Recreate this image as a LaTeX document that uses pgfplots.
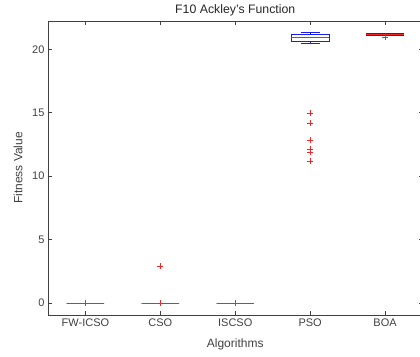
\documentclass[border=0pt]{standalone}
\usepackage{pgfplots}
\pgfplotsset{compat=1.18}
\usepgfplotslibrary{statistics}
\usepackage{fontspec}
\setmainfont{Liberation Sans}

\definecolor{axgray}{rgb}{0.25,0.25,0.25}
\definecolor{mblue}{rgb}{0.1,0.1,0.95}
\definecolor{mred}{rgb}{0.95,0.15,0.15}

\begin{document}
\begin{tikzpicture}
\begin{axis}[
  name=ax, at={(0,0)}, anchor=south west,
  scale only axis, width=374.5pt, height=294pt,
  xmin=0.5, xmax=5.5, ymin=-0.95, ymax=22.23,
  xtick={1,2,3,4,5},
  xticklabels={FW-ICSO,CSO,ISCSO,PSO,BOA},
  ytick={0,5,10,15,20},
  tick align=inside, major tick length=4pt,
  axis line style={axgray, line width=0.5pt},
  tick style={axgray, line width=0.5pt},
  ticklabel style={font=\fontsize{11}{13}\selectfont, text=axgray},
  /pgf/number format/assume math mode=true,
  title={F10 Ackley's Function},
  every axis title shift=0pt,
  title style={at={(axis description cs:0.5,1.037)}, anchor=center,
               font=\fontsize{12.3}{14}\selectfont, text=black!85},
  xlabel={Algorithms},
  xlabel style={at={(axis description cs:0.5,-0.099)}, anchor=center,
                font=\fontsize{12}{14}\selectfont, text=axgray},
  ylabel={Fitness Value},
  ylabel style={at={(axis description cs:-0.08,0.5)}, anchor=center,
                font=\fontsize{12}{14}\selectfont, text=axgray},
  boxplot/draw direction=y,
  boxplot/box extend=0.5,
  boxplot/whisker extend=0.25,
  boxplot/every box/.style={draw=mblue, line width=0.6pt},
  boxplot/every median/.style={draw=mred, line width=0.6pt},
  boxplot/every whisker/.style={draw=mblue, line width=0.5pt},
  mark size=3pt,
]
% FW-ICSO
\addplot[mark=+, mark options={draw=mred, line width=0.5pt}, boxplot prepared={draw position=1,
  lower whisker=0, lower quartile=0, median=0, upper quartile=0, upper whisker=0}]
  table[row sep=\\, y index=0] {data\\ 0\\};
% CSO
\addplot[mark=+, mark options={draw=mred, line width=0.5pt}, boxplot prepared={draw position=2,
  lower whisker=0, lower quartile=0, median=0, upper quartile=0, upper whisker=0}]
  table[row sep=\\, y index=0] {data\\ 0\\ 2.9\\};
% ISCSO
\addplot[mark=+, mark options={draw=mred, line width=0.5pt}, boxplot prepared={draw position=3,
  lower whisker=0, lower quartile=0, median=0, upper quartile=0, upper whisker=0}]
  table[row sep=\\, y index=0] {data\\ 0\\};
% PSO
\addplot[mark=+, mark options={draw=mred, line width=0.5pt}, boxplot prepared={draw position=4,
  lower whisker=20.5, lower quartile=20.65, median=20.95, upper quartile=21.22, upper whisker=21.32}]
  table[row sep=\\, y index=0] {data\\ 14.95\\ 14.2\\ 12.85\\ 12.1\\ 11.9\\ 11.2\\};
% BOA
\addplot[mark=+, mark options={draw=mred, line width=0.5pt}, boxplot prepared={draw position=5,
  lower whisker=21.08, lower quartile=21.13, median=21.2, upper quartile=21.27, upper whisker=21.3}]
  table[row sep=\\, y index=0] {data\\ 20.95\\};
\end{axis}
\pgfresetboundingbox
\useasboundingbox (-48pt,-41pt) rectangle (372pt,315pt);
\end{tikzpicture}
\end{document}
